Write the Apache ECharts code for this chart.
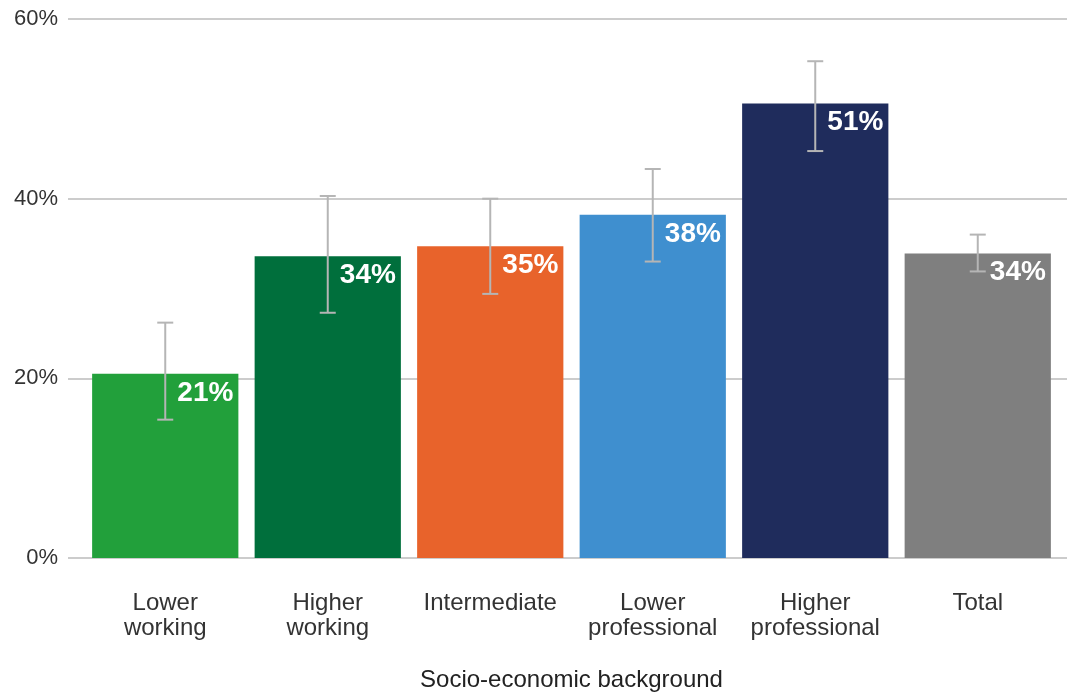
<!DOCTYPE html>
<html>
<head>
<meta charset="utf-8">
<script src="https://cdn.jsdelivr.net/npm/echarts@6/dist/echarts.min.js"></script>
<style>
html,body{margin:0;padding:0;background:#fff;}
#chart{width:1067px;height:695px;}
</style>
</head>
<body>
<div id="chart"></div>
<script>
const categories = ['Lower\nworking', 'Higher\nworking', 'Intermediate', 'Lower\nprofessional', 'Higher\nprofessional', 'Total'];
const values = [20.5, 33.6, 34.7, 38.2, 50.6, 33.9];
const labels = ['21%', '34%', '35%', '38%', '51%', '34%'];
const errLow = [15.4, 27.3, 29.4, 33.0, 45.3, 31.9];
const errHigh = [26.2, 40.3, 40.0, 43.3, 55.3, 36.0];
const colors = ['#22a03b', '#006f3c', '#e8632b', '#3f8fcf', '#1f2c5c', '#7f7f7f'];
const yTicks = [0, 20, 40, 60];

const chart = echarts.init(document.getElementById('chart'));
const font = 'Liberation Sans, Arial, sans-serif';

chart.setOption({
  animation: false,
  grid: [
    {left: 68, right: 0, top: 19, bottom: 137, containLabel: false, outerBoundsMode: 'none'},
    {left: 84, right: 8, top: 19, bottom: 137, containLabel: false, outerBoundsMode: 'none'}
  ],
  xAxis: [
    {gridIndex: 0, type: 'value', show: false, min: 0, max: 1},
    {gridIndex: 1, type: 'category', data: categories,
     axisLine: {show: false},
     axisTick: {show: false},
     axisLabel: {color: '#333', fontFamily: font, fontSize: 24, lineHeight: 25, margin: 33, interval: 0},
     name: 'Socio-economic background', nameLocation: 'middle', nameGap: 110,
     nameTextStyle: {color: '#222', fontFamily: font, fontSize: 24}}
  ],
  yAxis: [
    {gridIndex: 0, type: 'value', min: 0, max: 60, interval: 20,
     axisLine: {show: false}, axisTick: {show: false},
     axisLabel: {color: '#333', fontFamily: font, fontSize: 22, margin: 10,
       formatter: v => yTicks.includes(v) ? v + '%' : ''},
     splitLine: {lineStyle: {color: '#cccccc', width: 2}}},
    {gridIndex: 1, type: 'value', min: 0, max: 60, interval: 20, show: false,
     splitLine: {show: false}}
  ],
  series: [
    {
      type: 'bar', xAxisIndex: 1, yAxisIndex: 1,
      barCategoryGap: '10%',
      data: values.map((v, i) => ({value: v, itemStyle: {color: colors[i]}})),
      label: {show: true, position: 'insideTopRight', distance: 5,
        color: '#fff', fontWeight: 'bold', fontFamily: font, fontSize: 28,
        formatter: p => labels[p.dataIndex]},
      z: 2
    },
    {
      type: 'custom', xAxisIndex: 1, yAxisIndex: 1, z: 3,
      data: errLow.map((lo, i) => [i, lo, errHigh[i]]),
      renderItem: function (params, api) {
        const x = api.value(0);
        const lo = api.coord([x, api.value(1)]);
        const hi = api.coord([x, api.value(2)]);
        const hw = 8;
        const style = {stroke: '#b5b5b5', lineWidth: 2};
        return {type: 'group', children: [
          {type: 'line', shape: {x1: lo[0], y1: lo[1], x2: hi[0], y2: hi[1]}, style: style},
          {type: 'line', shape: {x1: lo[0]-hw, y1: lo[1], x2: lo[0]+hw, y2: lo[1]}, style: style},
          {type: 'line', shape: {x1: hi[0]-hw, y1: hi[1], x2: hi[0]+hw, y2: hi[1]}, style: style}
        ]};
      }
    }
  ]
});
</script>
</body>
</html>
